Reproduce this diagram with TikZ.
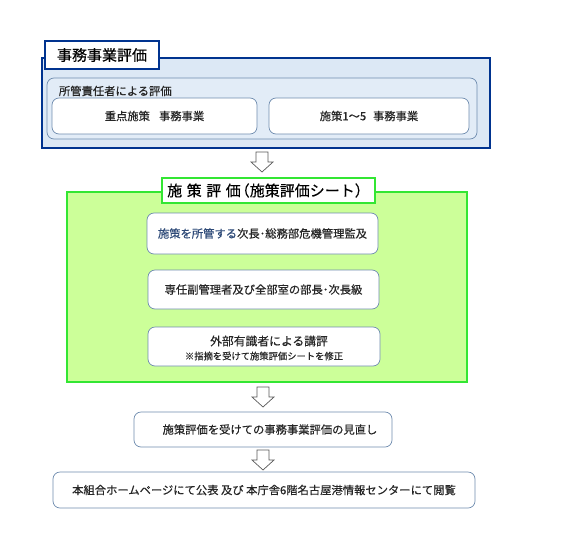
\documentclass[tikz,border=0pt]{standalone}
\usepackage{fontspec}
\setmainfont{Noto Sans CJK JP}[FakeBold=0.4]
\begin{document}
\begin{tikzpicture}[x=1pt,y=-1pt,
  every node/.style={inner sep=0pt,outer sep=0pt},
  bluebox/.style={draw=blue!45!black!80!cyan,line width=1.6pt,fill=blueFill},
  bluetab/.style={draw=blue!45!black!80!cyan,line width=1.6pt,fill=white},
  innerbox/.style={draw=grayBlue,line width=0.7pt,rounded corners=7pt,fill=blueInner},
  subbox/.style={draw=grayBlue,line width=0.7pt,rounded corners=7pt,fill=white},
  greenbox/.style={draw=greenLine,line width=1.8pt,fill=greenFill},
  greentab/.style={draw=greenLine,line width=1.8pt,fill=white},
  hollow/.style={draw=gray!70!black,line width=0.7pt,fill=white,line join=miter},
  txt/.style={font=\fontsize{11.3}{13}\selectfont,text=black!85,align=center}
]
\definecolor{blueFill}{HTML}{DCE8F5}
\definecolor{blueInner}{HTML}{E2ECF7}
\definecolor{grayBlue}{HTML}{6F8CAF}
\definecolor{greenLine}{HTML}{33E633}
\definecolor{greenFill}{HTML}{CCFF99}
\definecolor{navyText}{HTML}{2E4A78}
\useasboundingbox (0,0) rectangle (561,535);
\fill[white] (0,0) rectangle (561,535);

% --- 事務事業評価 block
\path[bluebox] (42,58) rectangle (490,148);
\path[bluetab] (45,41) rectangle (159,69);
\node[font=\fontsize{15}{17}\selectfont,text=black] (t1) at (102,55) {事務事業評価};
\path[innerbox] (47,78) rectangle (477,139);
\node[txt,anchor=west] (lab1) at (59,91) {所管責任者による評価};
\path[subbox] (52,98) rectangle (257,134);
\node[txt] (s1) at (154.5,116) {重点施策\hspace{0.8em}事務事業};
\path[subbox] (269,98) rectangle (469,134);
\node[txt] (s2) at (369,116) {施策1～5\hspace{0.6em}事務事業};

% --- arrows
\newcommand{\hollowarrow}[2]{%
  \path[hollow] (#1-6,#2) -- (#1+6,#2) -- (#1+6,#2+10) -- (#1+11,#2+10) -- (#1,#2+20) -- (#1-11,#2+10) -- (#1-6,#2+10) -- cycle;}
\hollowarrow{262}{152}

% --- 施策評価 block
\path[greenbox] (67,192) rectangle (467,382);
\path[greentab] (162,178) rectangle (375,203);
\node[font=\fontsize{15}{17}\selectfont,text=black] (t2) at (268.5,190.5) {施\hspace{0.3em}策\hspace{0.3em}評\hspace{0.3em}価\kern-0.4em（施策評価シート）};

\path[subbox] (147,213) rectangle (378,254);
\node[txt] (g1) at (262.5,233.5) {\textcolor{navyText}{施策を所管する}次長･総務部危機管理監及};
\path[subbox] (148,270) rectangle (379,309);
\node[txt] (g2) at (263.5,289.5) {専任副管理者及び全部室の部長･次長級};
\path[subbox] (148,327) rectangle (380,366);
\node[txt,font=\fontsize{11.8}{13}\selectfont] (g3) at (269,341) {外部有識者による講評};
\node[txt,font=\fontsize{9.3}{11}\selectfont] (g3b) at (264,356) {※指摘を受けて施策評価シートを修正};

\hollowarrow{263}{387}

\path[subbox] (134,412) rectangle (392,447);
\node[txt] (r1) at (270,429.5) {施策評価を受けての事務事業評価の見直し};

\hollowarrow{263}{450}

\path[subbox] (53,472) rectangle (475,508);
\node[txt] (r2) at (264,490) {本組合ホームページにて公表 及び 本庁舎6階名古屋港情報センターにて閲覧};
\end{tikzpicture}
\end{document}
